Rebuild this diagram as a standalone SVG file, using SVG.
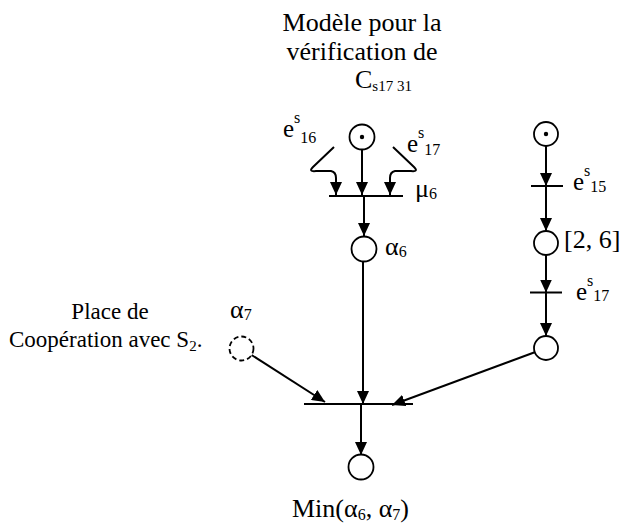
<svg xmlns="http://www.w3.org/2000/svg" width="624" height="528" viewBox="0 0 624 528" font-family="'Liberation Serif', 'Times New Roman', 'DejaVu Serif', serif">
<style>
text{font-family:'Liberation Serif','Times New Roman','DejaVu Serif',serif;fill:#000}
.t{font-size:26px}
.l{font-size:23px}
.g{font-size:26px}
.e{font-size:25px}
.sub{font-size:15px}
.es{font-size:16px}
.p{fill:#fff;stroke:#000;stroke-width:1.8}
.d{fill:#fff;stroke:#000;stroke-width:1.8;stroke-dasharray:5,3}
.bar{stroke:#000;stroke-width:2}
.a{fill:none;stroke:#000;stroke-width:2;marker-end:url(#ah)}
</style>
<defs>
<marker id="ah" markerUnits="userSpaceOnUse" markerWidth="13" markerHeight="12" refX="13" refY="6" orient="auto">
<path d="M0,0 L13,6 L0,12 z" fill="#000"/>
</marker>
</defs>
<g id="title">
<text class="t" x="362" y="31" text-anchor="middle">Modèle pour la</text>
<text class="t" x="362" y="60" text-anchor="middle">vérification de</text>
<text class="t" x="355" y="88">C<tspan class="sub" dy="3">s17 31</tspan></text>
</g>
<g id="connectors">
<path class="a" d="M362,150 L362,195"/>
<path class="a" d="M334,147 L313,167 Q308,172 316,171 L331,171 Q336,172 336,178 L336,195"/>
<path class="a" d="M393,147 L414,167 Q419,172 411,171 L395,171 Q390,172 390,178 L390,195"/>
<path class="a" d="M364,196 L364,236"/>
<path class="a" d="M363,261 L363,404"/>
<path class="a" d="M251.6,355 L325,402"/>
<path class="a" d="M534.7,352.2 L392,405"/>
<path class="a" d="M361,404 L361,455"/>
<path class="a" d="M546,146 L546,186"/>
<path class="a" d="M546,186 L546,231"/>
<path class="a" d="M546,255 L546,292.5"/>
<path class="a" d="M546,292.5 L546,336"/>
</g>
<g id="p_top">
<circle class="p" cx="362" cy="137" r="12.5"/>
<circle cx="362" cy="137" r="2.2" fill="#000"/>
</g>
<g id="t_mu6">
<line class="bar" x1="329" y1="196" x2="403" y2="196"/>
<text class="g" x="415" y="197">μ<tspan class="es" dy="2">6</tspan></text>
</g>
<g id="lbl_e16">
<text class="e" x="283" y="137">e<tspan class="es" dy="-14">s</tspan><tspan class="es" dy="20">16</tspan></text>
</g>
<g id="lbl_e17a">
<text class="e" x="407" y="152">e<tspan class="es" dy="-14">s</tspan><tspan class="es" dy="17">17</tspan></text>
</g>
<g id="p_alpha6">
<circle class="p" cx="364" cy="249" r="12.5"/>
<text class="g" x="385" y="255">α<tspan class="es" dy="2">6</tspan></text>
</g>
<g id="p_alpha7">
<circle class="d" cx="241.5" cy="348.5" r="12"/>
<text class="g" x="230" y="318">α<tspan class="es" dy="2">7</tspan></text>
</g>
<g id="lbl_place">
<text class="l" x="110" y="319" text-anchor="middle">Place de</text>
<text class="l" x="9" y="347">Coopération avec S<tspan class="sub" dy="4">2</tspan><tspan dy="-4">.</tspan></text>
</g>
<g id="t_join">
<line class="bar" x1="304" y1="404" x2="413" y2="404"/>
</g>
<g id="p_min">
<circle class="p" cx="361" cy="467" r="12.5"/>
<text class="g" x="292" y="517">Min(α<tspan class="es" dy="3">6</tspan><tspan dy="-3">, α</tspan><tspan class="es" dy="3">7</tspan><tspan dy="-3">)</tspan></text>
</g>
<g id="p_r1">
<circle class="p" cx="546" cy="134" r="12"/>
<circle cx="546" cy="134" r="2.2" fill="#000"/>
</g>
<g id="t_e15">
<line class="bar" x1="531" y1="186" x2="563" y2="186"/>
<text class="e" x="573" y="190">e<tspan class="es" dy="-14">s</tspan><tspan class="es" dy="16">15</tspan></text>
</g>
<g id="p_r2">
<circle class="p" cx="546" cy="243" r="12"/>
<text class="g" x="564" y="248">[2, 6]</text>
</g>
<g id="t_e17b">
<line class="bar" x1="530" y1="292.5" x2="562" y2="292.5"/>
<text class="e" x="576" y="300">e<tspan class="es" dy="-14">s</tspan><tspan class="es" dy="15">17</tspan></text>
</g>
<g id="p_r3">
<circle class="p" cx="546" cy="348" r="12"/>
</g>
</svg>
